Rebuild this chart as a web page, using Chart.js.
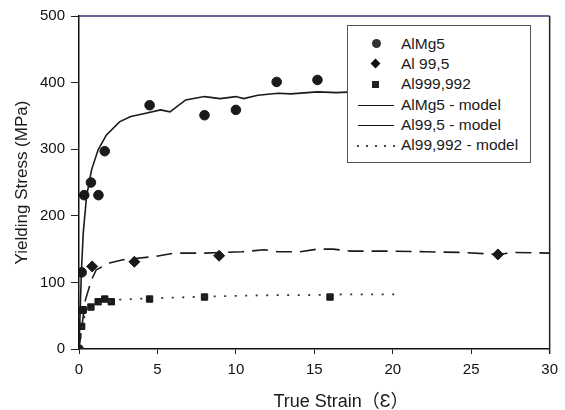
<!DOCTYPE html>
<html>
<head>
	<title>Yielding Stress vs True Strain</title>
	<script src="https://cdn.jsdelivr.net/npm/chart.js"></script>
</head>
<body>
	<div id="wrap">
		<canvas id="chart" width="565" height="410"></canvas>
		<div id="xtitle">True Strain（Ɛ）</div>
		<div id="legend">
			<div class="row"><span class="sym"><i class="dot"></i></span>AlMg5</div>
			<div class="row"><span class="sym"><i class="dia"></i></span>Al 99,5</div>
			<div class="row"><span class="sym"><i class="sq"></i></span>Al999,992</div>
			<div class="row"><span class="sym"><i class="ln"></i></span>AlMg5 - model</div>
			<div class="row"><span class="sym"><i class="ln"></i></span>Al99,5 - model</div>
			<div class="row"><span class="sym"><i class="dt"></i></span>Al99,992 - model</div>
		</div>
	</div>

	<style type="text/css">
		body { margin: 0; padding: 0; background: #fff; }
		#wrap { position: relative; width: 565px; height: 410px; }
		#xtitle {
			position: absolute; left: 204px; width: 274px; top: 390px; text-align: center;
			font-family: "Liberation Sans", Arial, "Noto Sans CJK JP", sans-serif; font-size: 18px; color: #1a1a1a;
			line-height: 22px;
		}
		#legend {
			position: absolute; left: 347px; top: 25px; width: 184px; height: 138px;
			background: #fff; border: 1px solid #555; box-sizing: border-box;
			font-family: "Liberation Sans", Arial, sans-serif; font-size: 15.5px; color: #1a1a1a;
			padding-top: 8px;
		}
		.row { height: 20.2px; line-height: 20px; white-space: nowrap; }
		.sym { display: inline-block; width: 53px; height: 20px; position: relative; vertical-align: top; }
		.sym i { position: absolute; display: block; }
		.dot { width: 9px; height: 9px; border-radius: 50%; background: #333; left: 24px; top: 5px; }
		.dia { width: 7px; height: 7px; background: #111; transform: rotate(45deg); left: 24px; top: 6px; }
		.sq { width: 7px; height: 7px; background: #222; left: 24px; top: 7px; }
		.ln { width: 36px; border-top: 1.5px solid #111; left: 10px; top: 10px; }
		.dt { width: 38px; height: 2px; left: 9px; top: 10px;
			background: repeating-linear-gradient(to right, #444 0 2px, transparent 2px 9px); }
	</style>

	<script>
		// 測定値 (points)
		var mg5X = [0.17, 0.33, 0.76, 1.24, 1.64, 4.5, 8.0, 10.0, 12.6, 15.2];
		var mg5Y = [115, 231, 250, 231, 297, 366, 351, 359, 401, 404];

		var al995X = [0, 0.84, 3.53, 8.93, 26.7];
		var al995Y = [0, 124, 131, 140, 142];

		var al999X = [0.0, 0.17, 0.23, 0.27, 0.76, 1.22, 1.64, 2.06, 4.5, 8.0, 16.0];
		var al999Y = [0, 34, 58, 59, 63, 71, 75, 71, 75, 78, 78];

		// モデル曲線
		var mg5ModelX = [0, 0.15, 0.27, 0.48, 0.8, 1.22, 1.74, 2.58, 3.3, 4.26, 5.2, 5.8, 6.8, 8.0, 9.0, 10.0, 10.5, 11.4, 12.7, 13.5, 15.2, 16.4, 17.5, 19.0];
		var mg5ModelY = [0, 115, 174, 229, 269, 299, 321, 341, 349, 354, 359, 356, 374, 379, 376, 379, 376, 381, 384, 383, 386, 385, 386, 385];

		var al995ModelX = [0, 0.4, 0.8, 1.1, 1.95, 2.8, 4.9, 6.05, 8.05, 10.4, 11.8, 12.7, 14.1, 15.2, 16.2, 17.3, 19.6, 22.1, 24.4, 26.7, 27.8, 30];
		var al995ModelY = [0, 73, 104, 119, 129, 134, 139, 144, 144, 146, 149, 146, 146, 150, 150, 147, 147, 146, 145, 142, 145, 144];

		var al999ModelX = [0, 0.27, 0.6, 1.2, 2.4, 4.5, 7.8, 10.5, 12.7, 14.6, 17.0, 20.5];
		var al999ModelY = [0, 46, 55, 68, 74, 76, 78.5, 80, 81, 81, 82, 82];

		function pts(xs, ys) {
			return xs.map(function(x, i) { return { x: x, y: ys[i] }; });
		}

		var ink = '#1a1a1a';
		var font = "'Liberation Sans', Arial, sans-serif";

		// 枠線 (上・右)
		var frame = {
			id: 'frame',
			afterDraw: function(chart) {
				var a = chart.chartArea, c = chart.ctx;
				c.save();
				c.lineWidth = 1.5;
				c.strokeStyle = '#34386e';
				c.beginPath(); c.moveTo(a.left, a.top); c.lineTo(a.right, a.top); c.stroke();
				c.strokeStyle = '#222';
				c.beginPath(); c.moveTo(a.right, a.top); c.lineTo(a.right, a.bottom + 5); c.stroke();
				c.restore();
			}
		};

		var ctx = document.getElementById('chart').getContext('2d');
		var chart = new Chart(ctx, {
			type: 'scatter',
			data: {
				datasets: [
					{ label: 'AlMg5 - model', data: pts(mg5ModelX, mg5ModelY), showLine: true, borderColor: ink, borderWidth: 1.6, pointRadius: 0 },
					{ label: 'Al99,5 - model', data: pts(al995ModelX, al995ModelY), showLine: true, borderColor: ink, borderWidth: 1.6, borderDash: [16, 8], pointRadius: 0 },
					{ label: 'Al99,992 - model', data: pts(al999ModelX, al999ModelY), showLine: true, borderColor: '#333', borderWidth: 1.8, borderDash: [2, 8.5], pointRadius: 0 },
					{ label: 'AlMg5', data: pts(mg5X, mg5Y), pointStyle: 'circle', pointRadius: 4.8, backgroundColor: ink, borderColor: ink },
					{ label: 'Al 99,5', data: pts(al995X, al995Y), pointStyle: 'rectRot', pointRadius: 5.5, backgroundColor: ink, borderColor: ink },
					{ label: 'Al999,992', data: pts(al999X, al999Y), pointStyle: 'rect', pointRadius: 4.5, backgroundColor: ink, borderColor: ink }
				]
			},
			options: {
				responsive: false,
				animation: false,
				layout: { padding: { top: 16, right: 10, left: 0, bottom: 0 } },
				plugins: { legend: { display: false }, tooltip: { enabled: false } },
				scales: {
					x: {
						type: 'linear', min: 0, max: 30,
						ticks: { stepSize: 5, color: '#111', font: { family: font, size: 15 }, padding: 7 },
						grid: { drawOnChartArea: false, color: '#222', tickLength: 5 },
						border: { color: '#111', width: 1.5 },
						title: { display: false },
						afterFit: function(s) { s.height = 61; }
					},
					y: {
						type: 'linear', min: 0, max: 500,
						ticks: { stepSize: 100, color: '#111', font: { family: font, size: 15 }, padding: 6 },
						grid: { drawOnChartArea: false, color: '#222', tickLength: 8 },
						border: { color: '#111', width: 1.5 },
						title: { display: true, text: 'Yielding Stress (MPa)', color: '#1a1a1a', font: { family: font, size: 17 }, padding: { top: 12, bottom: 0 } },
						afterFit: function(s) { s.width = 79; }
					}
				}
			},
			plugins: [frame]
		});
	</script>
</body>
</html>
